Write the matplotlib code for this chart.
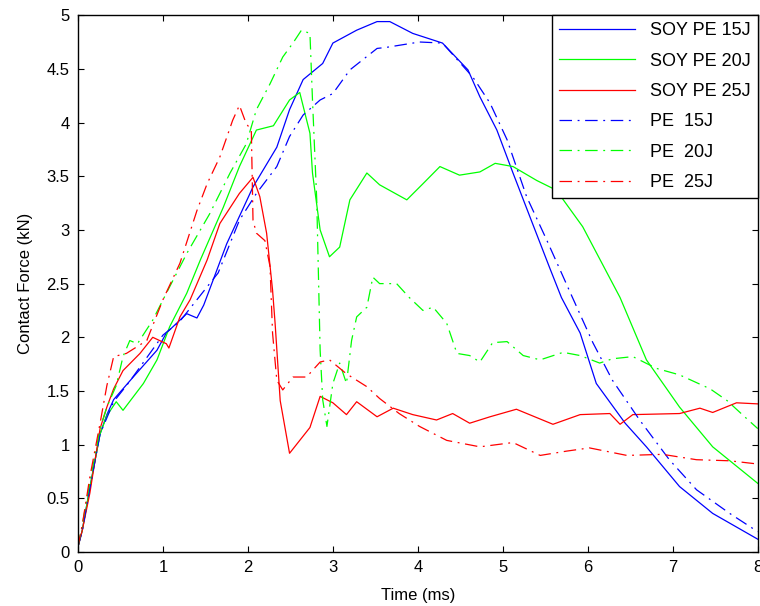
import numpy as np
import matplotlib
matplotlib.use('Agg')
import matplotlib.pyplot as plt

plt.rcParams['font.family'] = ['Liberation Sans', 'DejaVu Sans']

##  curve data: time (ms), contact force (kN)
soy15_t = [0, 0.05, 0.14, 0.26, 0.34, 0.42, 0.65, 0.93, 1.04, 1.28, 1.4, 1.48, 1.75, 2.06, 2.34, 2.49,
           2.65, 2.88, 3.0, 3.28, 3.52, 3.67, 3.94, 4.29, 4.59, 4.73, 4.93, 5.12, 5.32, 5.55, 5.69,
           5.91, 6.1, 6.44, 6.69, 7.08, 7.47, 8.0]
soy15_f = [0.05, 0.2, 0.6, 1.1, 1.28, 1.42, 1.63, 1.88, 2.04, 2.22, 2.18, 2.3, 2.87, 3.4, 3.77, 4.12,
           4.4, 4.55, 4.74, 4.86, 4.94, 4.94, 4.83, 4.74, 4.49, 4.24, 3.93, 3.53, 3.12, 2.65, 2.37,
           2.04, 1.57, 1.2, 0.98, 0.61, 0.36, 0.12]

soy20_t = [0, 0.05, 0.14, 0.26, 0.34, 0.45, 0.53, 0.77, 0.93, 1.08, 1.28, 1.44, 1.71, 1.9, 2.1, 2.3,
           2.49, 2.61, 2.73, 2.76, 2.85, 2.96, 3.08, 3.2, 3.4, 3.55, 3.87, 4.06, 4.26, 4.49, 4.73,
           4.91, 5.12, 5.4, 5.63, 5.94, 6.38, 6.69, 7.08, 7.47, 8.0]
soy20_f = [0.05, 0.2, 0.6, 1.1, 1.27, 1.4, 1.32, 1.57, 1.79, 2.1, 2.41, 2.72, 3.21, 3.59, 3.93, 3.97,
           4.21, 4.28, 3.9, 3.53, 3.0, 2.75, 2.84, 3.28, 3.53, 3.42, 3.28, 3.43, 3.59, 3.51, 3.54,
           3.62, 3.59, 3.46, 3.37, 3.03, 2.37, 1.79, 1.35, 0.98, 0.64]

soy25_t = [0, 0.05, 0.14, 0.26, 0.34, 0.42, 0.53, 0.73, 0.88, 1.04, 1.07, 1.2, 1.32, 1.52, 1.67, 1.9,
           2.06, 2.14, 2.22, 2.29, 2.32, 2.38, 2.49, 2.61, 2.73, 2.85, 3.0, 3.16, 3.28, 3.52, 3.71,
           3.94, 4.22, 4.41, 4.61, 4.85, 5.16, 5.59, 5.91, 6.26, 6.38, 6.53, 7.08, 7.32, 7.47, 7.75, 8.0]
soy25_f = [0.05, 0.2, 0.55, 1.15, 1.35, 1.52, 1.69, 1.85, 2.0, 1.94, 1.9, 2.19, 2.35, 2.72, 3.06, 3.34,
           3.49, 3.31, 2.97, 2.44, 2.13, 1.41, 0.92, 1.04, 1.16, 1.45, 1.39, 1.28, 1.4, 1.26, 1.34,
           1.28, 1.23, 1.29, 1.2, 1.26, 1.33, 1.19, 1.28, 1.29, 1.19, 1.28, 1.29, 1.34, 1.3, 1.39, 1.38]

pe15_t = [0, 0.05, 0.14, 0.26, 0.42, 0.6, 0.8, 1.0, 1.2, 1.4, 1.65, 1.9, 2.1, 2.34, 2.49, 2.65, 2.85,
          3.0, 3.2, 3.52, 3.63, 4.02, 4.29, 4.65, 4.85, 5.05, 5.28, 5.52, 5.82, 6.06, 6.29, 6.61,
          6.96, 7.28, 7.67, 8.0]
pe15_f = [0.05, 0.2, 0.6, 1.1, 1.4, 1.58, 1.8, 2.02, 2.15, 2.35, 2.6, 3.09, 3.34, 3.59, 3.87, 4.07, 4.21,
          4.27, 4.49, 4.69, 4.70, 4.75, 4.74, 4.42, 4.18, 3.84, 3.31, 2.9, 2.37, 1.95, 1.6, 1.23,
          0.86, 0.58, 0.36, 0.19]

pe20_t = [0, 0.05, 0.14, 0.26, 0.34, 0.45, 0.53, 0.61, 0.7, 0.88, 1.04, 1.28, 1.55, 1.79, 1.98, 2.1,
          2.26, 2.41, 2.53, 2.63, 2.73, 2.76, 2.81, 2.85, 2.88, 2.93, 3.0, 3.08, 3.16, 3.22, 3.28,
          3.4, 3.47, 3.55, 3.75, 3.9, 4.06, 4.18, 4.34, 4.46, 4.61, 4.73, 4.88, 5.05, 5.24, 5.44,
          5.71, 5.91, 6.14, 6.29, 6.53, 6.81, 7.08, 7.44, 7.64, 7.86, 8.0]
pe20_f = [0.05, 0.25, 0.65, 1.15, 1.35, 1.55, 1.82, 1.97, 1.94, 2.16, 2.41, 2.78, 3.15, 3.53, 3.8, 4.12,
          4.36, 4.61, 4.74, 4.86, 4.83, 4.21, 3.28, 1.88, 1.42, 1.17, 1.57, 1.76, 1.57, 1.97, 2.19,
          2.28, 2.56, 2.5, 2.5, 2.37, 2.25, 2.28, 2.13, 1.85, 1.83, 1.77, 1.95, 1.96, 1.83, 1.79,
          1.86, 1.83, 1.76, 1.8, 1.82, 1.71, 1.65, 1.52, 1.41, 1.25, 1.15]

pe25_t = [0, 0.05, 0.14, 0.26, 0.34, 0.42, 0.57, 0.81, 1.0, 1.2, 1.4, 1.52, 1.67, 1.75, 1.82, 1.9,
          1.98, 2.04, 2.06, 2.1, 2.2, 2.26, 2.29, 2.34, 2.41, 2.53, 2.69, 2.85, 2.96, 3.16, 3.4,
          3.55, 3.78, 4.02, 4.34, 4.73, 5.12, 5.44, 5.75, 6.02, 6.46, 6.88, 7.28, 7.67, 8.0]
pe25_f = [0.05, 0.25, 0.7, 1.2, 1.55, 1.82, 1.85, 1.97, 2.35, 2.69, 3.18, 3.43, 3.68, 3.86, 4.02, 4.16,
          3.99, 3.93, 3.09, 2.97, 2.9, 2.66, 2.04, 1.6, 1.51, 1.63, 1.63, 1.77, 1.79, 1.66, 1.54,
          1.43, 1.29, 1.17, 1.04, 0.98, 1.02, 0.9, 0.94, 0.97, 0.9, 0.91, 0.86, 0.85, 0.82]

##  plot figure
fig = plt.figure(figsize=(7.6, 6.06), dpi=100)
ax = fig.add_axes([0.1026, 0.089, 0.8944, 0.886])

lw = 0.9
dd = (10, 4.5, 1.5, 4.5)   # matlab style dash-dot
ax.plot(soy15_t, soy15_f, '-', color='blue', linewidth=lw, label='SOY PE 15J')
ax.plot(soy20_t, soy20_f, '-', color='lime', linewidth=lw, label='SOY PE 20J')
ax.plot(soy25_t, soy25_f, '-', color='red', linewidth=lw, label='SOY PE 25J')
ax.plot(pe15_t, pe15_f, '-.', dashes=dd, color='blue', linewidth=lw, label='PE  15J')
ax.plot(pe20_t, pe20_f, '-.', dashes=dd, color='lime', linewidth=lw, label='PE  20J')
ax.plot(pe25_t, pe25_f, '-.', dashes=dd, color='red', linewidth=lw, label='PE  25J')

ax.set_xlim(0, 8)
ax.set_ylim(0, 5)
ax.set_xticks(np.arange(0, 9, 1))
ax.set_yticks(np.arange(0, 5.01, 0.5))
ax.set_yticklabels(['0', '0.5', '1', '1.5', '2', '2.5', '3', '3.5', '4', '4.5', '5'])
ax.tick_params(direction='in', top=True, right=True, length=4, width=0.8, labelsize=12, pad=6)
for s in ax.spines.values():
    s.set_linewidth(1.0)
ax.set_xlabel('Time (ms)', fontsize=12, labelpad=9)
ax.set_ylabel('Contact Force (kN)', fontsize=12, labelpad=10)

leg = ax.legend(loc='upper right', fontsize=13, handlelength=4.2, labelspacing=0.74,
                borderaxespad=0, fancybox=False, edgecolor='black', framealpha=1)
leg.get_frame().set_linewidth(1.0)

plt.savefig('out.png', dpi=100)
